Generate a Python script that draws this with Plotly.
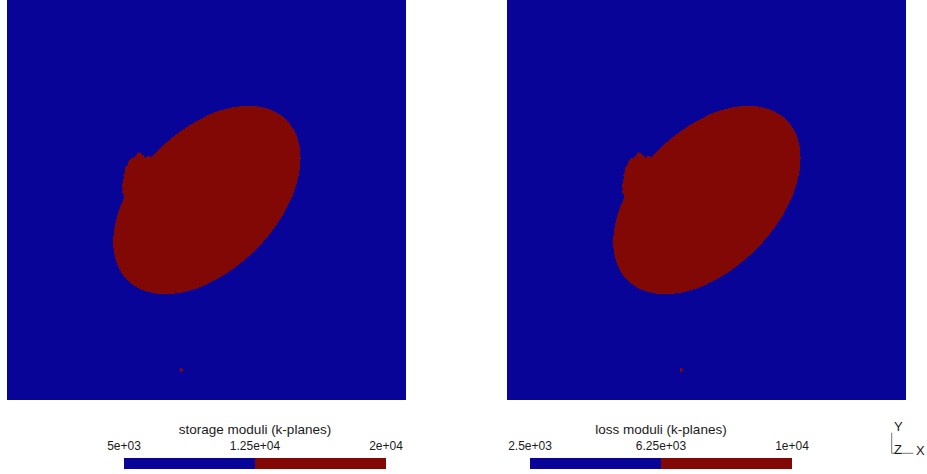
import numpy as np
import plotly.graph_objects as go

# ---------------- data ----------------
panel_titles = ["storage moduli (k-planes)", "loss moduli (k-planes)"]
outside_values = [5e3, 2.5e3]      # background (matrix) value
inside_values = [2e4, 1e4]         # inclusion value
tick_labels = [["5e+03", "1.25e+04", "2e+04"], ["2.5e+03", "6.25e+03", "1e+04"]]

# inclusion geometry (unit-square domain, y up)
inclusion_center = [0.501, 0.500]
inclusion_semi_axes = [0.283, 0.175]
inclusion_angle_deg = 45.0
# ragged fringe on the upper-left edge of the inclusion (outline)
fringe_x = [0.3634, 0.3509, 0.3459, 0.3409, 0.3358, 0.3283, 0.3233, 0.3158, 0.3108,
            0.3033, 0.3008, 0.2957, 0.2945, 0.2907, 0.2920, 0.2900, 0.2870, 0.2895,
            0.2870, 0.2920, 0.2945, 0.3333, 0.3835]
fringe_y = [0.6075, 0.6100, 0.6050, 0.6125, 0.6150, 0.6200, 0.6125, 0.6050, 0.6050,
            0.5950, 0.5850, 0.5825, 0.5700, 0.5625, 0.5550, 0.5450, 0.5350, 0.5275,
            0.5200, 0.5150, 0.5050, 0.5000, 0.5750]
# isolated tiny speck near the bottom
speck_center = [0.436, 0.075]
speck_radius = 0.0045

grid_n = 400

# ---------------- field ----------------
xs = (np.arange(grid_n) + 0.5) / grid_n
ys = (np.arange(grid_n) + 0.5) / grid_n
X, Y = np.meshgrid(xs, ys)


def ellipse_mask(c, ax, ang):
    t = np.deg2rad(ang)
    dx, dy = X - c[0], Y - c[1]
    u = dx * np.cos(t) + dy * np.sin(t)
    v = -dx * np.sin(t) + dy * np.cos(t)
    return (u / ax[0]) ** 2 + (v / ax[1]) ** 2 <= 1.0


def polygon_mask(px, py):
    inside = np.zeros(X.shape, dtype=bool)
    n = len(px)
    j = n - 1
    for i in range(n):
        xi, yi, xj, yj = px[i], py[i], px[j], py[j]
        cond = ((yi > Y) != (yj > Y))
        xint = (xj - xi) * (Y - yi) / ((yj - yi) if yj != yi else 1e-12) + xi
        inside ^= cond & (X < xint)
        j = i
    return inside


mask = ellipse_mask(inclusion_center, inclusion_semi_axes, inclusion_angle_deg)
mask |= polygon_mask(fringe_x, fringe_y)
mask |= ellipse_mask(speck_center, [speck_radius, speck_radius], 0.0)

blue = "rgb(8,4,152)"
red = "rgb(130,8,5)"
cscale = [[0, blue], [0.5, blue], [0.5, red], [1, red]]

W, H = 927, 474
panel_x = [(7, 406), (507, 906)]
panel_y = (0, 400)
bar_x = [(124, 386), (530, 792)]
bar_y = (458, 469.3)


def px_x(p):
    return p / W


def px_y(p):
    return 1 - p / H


fig = go.Figure()
font_family = "Liberation Sans, Arial, Helvetica, sans-serif"
txt_color = "#1a1a1a"

for k in range(2):
    lo, hi = outside_values[k], inside_values[k]
    z = np.where(mask, hi, lo)
    xa = "x" if k == 0 else f"x{2*k+1}"
    ya = "y" if k == 0 else f"y{2*k+1}"
    fig.add_trace(go.Heatmap(z=z, x=xs, y=ys, colorscale=cscale, zmin=lo, zmax=hi,
                             showscale=False, hoverinfo="skip", xaxis=xa, yaxis=ya))
    # colour bar as its own small axis
    xb = f"x{2*k+2}"
    yb = f"y{2*k+2}"
    mid = (lo + hi) / 2
    fig.add_trace(go.Heatmap(z=[[lo, hi]], x0=lo + (hi - lo) / 4, dx=(hi - lo) / 2,
                             y=[0], colorscale=cscale, zmin=lo, zmax=hi,
                             showscale=False, hoverinfo="skip", xaxis=xb, yaxis=yb))

    axn = "" if k == 0 else str(2 * k + 1)
    fig.layout[f"xaxis{axn}"] = dict(domain=[px_x(panel_x[k][0]), px_x(panel_x[k][1])],
                                    range=[0, 1], visible=False, anchor=ya)
    fig.layout[f"yaxis{axn}"] = dict(domain=[px_y(panel_y[1]), px_y(panel_y[0])],
                                    range=[0, 1], visible=False, anchor=xa)
    bn = str(2 * k + 2)
    fig.layout[f"xaxis{bn}"] = dict(
        domain=[px_x(bar_x[k][0]), px_x(bar_x[k][1])], range=[lo, hi], anchor=yb,
        side="top", tickvals=[lo, mid, hi], ticktext=tick_labels[k], ticks="",
        ticklabelstandoff=5, automargin=False,
        showgrid=False, zeroline=False, showline=False,
        tickfont=dict(family=font_family, size=12, color=txt_color),
        title=dict(text=panel_titles[k], standoff=0,
                   font=dict(family=font_family, size=13.5, color=txt_color)))
    fig.layout[f"yaxis{bn}"] = dict(domain=[px_y(bar_y[1]), px_y(bar_y[0])],
                                    range=[-0.5, 0.5], visible=False, anchor=xb)

# orientation triad
line_col = "#777777"
fig.add_shape(type="line", xref="paper", yref="paper",
              x0=px_x(891.7), x1=px_x(891.7), y0=px_y(432.7), y1=px_y(453.3),
              line=dict(color=line_col, width=1))
fig.add_shape(type="line", xref="paper", yref="paper",
              x0=px_x(891.7), x1=px_x(913.3), y0=px_y(453.3), y1=px_y(453.3),
              line=dict(color=line_col, width=1))
for t, x, y in [("Y", 898.3, 426.7), ("Z", 897.7, 449.3), ("X", 920.7, 450.0)]:
    fig.add_annotation(text=t, x=px_x(x), y=px_y(y), xref="paper", yref="paper",
                       xanchor="center", yanchor="middle", showarrow=False,
                       font=dict(family=font_family, size=13, color=txt_color))

fig.update_layout(width=W, height=H,
                  margin=dict(l=0, r=0, t=0, b=0, pad=0, autoexpand=False),
                  paper_bgcolor="white", plot_bgcolor="white", showlegend=False)
fig.write_html("out.html")
